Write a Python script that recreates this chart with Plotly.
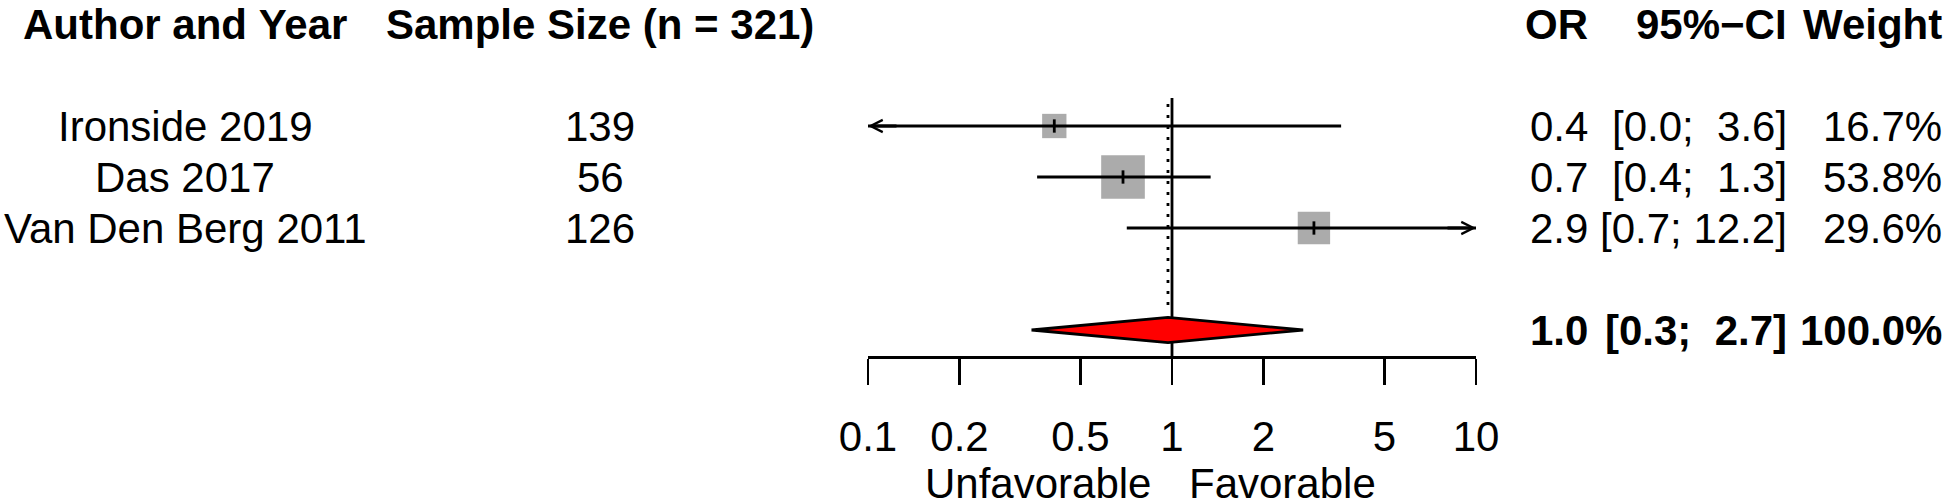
import numpy as np
import plotly.graph_objects as go

# ---------------- data ----------------
studies = ["Ironside 2019", "Das 2017", "Van Den Berg 2011"]
sample_n = [139, 56, 126]
odds_ratio = [0.41, 0.69, 2.93]
ci_lower = [0.04, 0.36, 0.71]
ci_upper = [3.60, 1.34, 12.2]
weights = [16.7, 53.8, 29.6]
pooled_or = 0.97
pooled_lower = 0.345
pooled_upper = 2.70
pooled_weight = 100.0
total_n = 321
x_ticks = [0.1, 0.2, 0.5, 1, 2, 5, 10]
x_ticklabels = ["0.1", "0.2", "0.5", "1", "2", "5", "10"]
label_left = "Unfavorable"
label_right = "Favorable"
header_left = ["Author and Year", "Sample Size (n = %d)" % total_n]
header_right = ["OR", "95%\u2212CI", "Weight"]

# ---------------- layout constants (pixels) ----------------
W, H = 1952, 500
PL, PR, PB = 868, 1476, 356          # forest panel left/right, axis line y
ROW0, ROWH = 24, 51.0                # y of header row, row spacing
FS = 42
FONT = "Liberation Sans, Arial, sans-serif"
XMIN, XMAX = 0.1, 10
LW = 2.8

study_rows = [2, 3, 4]
summary_row = 6
r_top = (0 - ROW0) / ROWH
r_bot = (PB - ROW0) / ROWH


def px(xpix):
    return (xpix - PL) / (PR - PL)


def py(ypix):
    return (PB - ypix) / PB


def rowof(ypix):
    return (ypix - ROW0) / ROWH


nb = lambda s: s.replace(" ", "\u00a0")

fig = go.Figure()

# reference line at OR = 1
fig.add_trace(go.Scatter(x=[1, 1], y=[rowof(98), r_bot], mode="lines",
                         line=dict(color="black", width=LW), hoverinfo="skip"))
# pooled estimate dotted line
fig.add_trace(go.Scatter(x=[pooled_or, pooled_or], y=[rowof(104), rowof(312)],
                         mode="lines",
                         line=dict(color="black", width=LW, dash="3px,8px"),
                         hoverinfo="skip"))

# squares (side proportional to sqrt(weight))
fig.add_trace(go.Scatter(
    x=odds_ratio, y=study_rows, mode="markers", opacity=1,
    marker=dict(symbol="square", size=[5.95 * np.sqrt(w) for w in weights],
                color="#ABABAB", opacity=1, line=dict(width=0)),
    hoverinfo="skip"))

# CI lines (clipped to axis limits)
cx, cy = [], []
for lo, hi, r in zip(ci_lower, ci_upper, study_rows):
    cx += [max(lo, XMIN), min(hi, XMAX), None]
    cy += [r, r, None]
fig.add_trace(go.Scatter(x=cx, y=cy, mode="lines",
                         line=dict(color="black", width=LW), hoverinfo="skip"))

# point estimate ticks
fig.add_trace(go.Scatter(
    x=odds_ratio, y=study_rows, mode="markers",
    marker=dict(symbol="line-ns", size=9.5, line=dict(width=LW, color="black")),
    hoverinfo="skip"))

# pooled diamond
dh = 12.7 / ROWH
fig.add_trace(go.Scatter(
    x=[pooled_lower, pooled_or, pooled_upper, pooled_or, pooled_lower],
    y=[summary_row, summary_row - dh, summary_row, summary_row + dh, summary_row],
    mode="lines", fill="toself", fillcolor="#FF0000",
    line=dict(color="black", width=LW), hoverinfo="skip"))

ann = []
# arrows where CI exceeds axis limits
for lo, hi, r in zip(ci_lower, ci_upper, study_rows):
    if lo < XMIN:
        ann.append(dict(x=np.log10(XMIN), y=r, xref="x", yref="y", ax=30, ay=0,
                        showarrow=True, arrowhead=5, arrowwidth=LW, arrowsize=0.85,
                        arrowcolor="black", text=""))
    if hi > XMAX:
        ann.append(dict(x=np.log10(XMAX), y=r, xref="x", yref="y", ax=-30, ay=0,
                        showarrow=True, arrowhead=5, arrowwidth=LW, arrowsize=0.85,
                        arrowcolor="black", text=""))


def txt(s, xpix, row, anchor, bold=False):
    t = nb(s)
    if bold:
        t = "<b>" + t + "</b>"
    return dict(text=t, x=px(xpix), y=row, xref="paper", yref="y",
                xanchor=anchor, yanchor="middle", showarrow=False,
                font=dict(size=FS, family=FONT, color="black"))


COL_STUDY, COL_N = 185, 600
COL_OR, COL_CI, COL_W = 1590, 1789, 1944

# headers
ann.append(txt(header_left[0], COL_STUDY, 0, "center", True))
ann.append(txt(header_left[1], COL_N, 0, "center", True))
ann.append(txt(header_right[0], COL_OR, 0, "right", True))
ann.append(txt(header_right[1], COL_CI, 0, "right", True))
ann.append(txt(header_right[2], COL_W, 0, "right", True))


def fmt_ci(lo, hi):
    return "[" + ("%.1f" % lo).rjust(3) + "; " + ("%.1f" % hi).rjust(4) + "]"


for s, n, o, lo, hi, w, r in zip(studies, sample_n, odds_ratio, ci_lower,
                                  ci_upper, weights, study_rows):
    ann.append(txt(s, COL_STUDY, r, "center"))
    ann.append(txt(str(n), COL_N, r, "center"))
    ann.append(txt("%.1f" % o, COL_OR, r, "right"))
    ann.append(txt(fmt_ci(lo, hi), COL_CI, r, "right"))
    ann.append(txt("%.1f%%" % w, COL_W, r, "right"))

# summary row
ann.append(txt("%.1f" % pooled_or, COL_OR, summary_row, "right", True))
ann.append(txt(fmt_ci(pooled_lower, pooled_upper), COL_CI, summary_row, "right", True))
ann.append(txt("%.1f%%" % pooled_weight, COL_W, summary_row, "right", True))

# favour labels
ann.append(dict(text=label_left, x=0, xref="x", xshift=-19, xanchor="right",
                y=py(483), yref="paper", yanchor="middle", showarrow=False,
                font=dict(size=FS, family=FONT, color="black")))
ann.append(dict(text=label_right, x=0, xref="x", xshift=15, xanchor="left",
                y=py(483), yref="paper", yanchor="middle", showarrow=False,
                font=dict(size=FS, family=FONT, color="black")))

fig.update_layout(
    width=W, height=H,
    margin=dict(l=PL, r=W - PR, t=0, b=H - PB, pad=0),
    paper_bgcolor="white", plot_bgcolor="white",
    showlegend=False,
    annotations=ann,
    font=dict(family=FONT, size=FS, color="black"),
    xaxis=dict(type="log", range=[np.log10(XMIN), np.log10(XMAX)],
               tickvals=x_ticks, ticktext=x_ticklabels,
               showline=True, linecolor="black", linewidth=LW,
               ticks="outside", ticklen=26, tickwidth=LW, tickcolor="black",
               tickfont=dict(size=FS, family=FONT, color="black"),
               ticklabelstandoff=16,
               showgrid=False, zeroline=False, fixedrange=True),
    yaxis=dict(range=[r_bot, r_top], visible=False, fixedrange=True),
)

fig.write_html("out.html",
               config={"displayModeBar": False, "staticPlot": True},
               post_script="document.body.style.margin='0';"
                           "document.body.style.overflow='hidden';")
